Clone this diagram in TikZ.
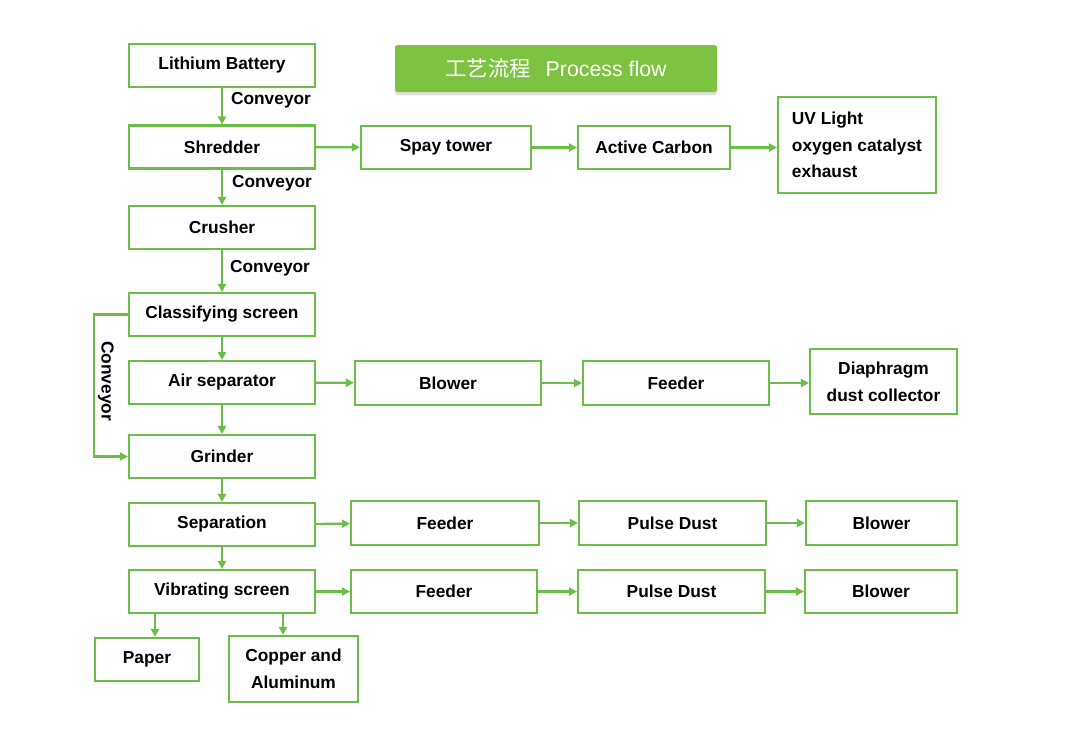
\documentclass[tikz,border=0pt]{standalone}
\usepackage{fontspec}
\setmainfont{Liberation Sans}
\newfontfamily\cjkfont{Noto Sans CJK SC}
\usetikzlibrary{arrows.meta,shadows}

\definecolor{flowgreen}{RGB}{106,190,72}
\definecolor{titlegreen}{RGB}{126,194,66}

\tikzset{
  box/.style={draw=flowgreen, line width=1.6pt, fill=white, inner sep=0pt,
    align=center, font=\bfseries\fontsize{13}{20}\selectfont},
  lbl/.style={font=\bfseries\fontsize{13}{20}\selectfont},
  flow/.style={draw=flowgreen, line width=1.6pt, -{Triangle[length=6pt,width=6pt]}},
}

\begin{document}
\begin{tikzpicture}[x=0.75pt,y=0.75pt,yscale=-1]
\useasboundingbox (0,0) rectangle (1066,732);

% Title
\node [fill=titlegreen, rounded corners=2pt, minimum width=241.5pt, minimum height=35.25pt,
  drop shadow={shadow xshift=0pt, shadow yshift=-2.5pt, opacity=0.25}, text=white,
  font=\fontsize{16}{18}\selectfont] (title) at (556,68.5) {{\cjkfont 工艺流程}\hspace{0.7em}Process flow};

% Main column
\node [box, minimum width=139.5pt, minimum height=32.25pt] (battery) at (222,65.5) {Lithium Battery};
\node [box, minimum width=139.5pt, minimum height=32.25pt] (shredder) at (222,147) {Shredder};
\node [box, minimum width=139.5pt, minimum height=32.25pt] (crusher) at (222,227.5) {Crusher};
\node [box, minimum width=139.5pt, minimum height=32.25pt] (classify) at (222,314.5) {Classifying screen};
\node [box, minimum width=139.5pt, minimum height=32.25pt] (airsep) at (222,382.5) {Air separator};
\node [box, minimum width=139.5pt, minimum height=32.25pt] (grinder) at (222,456.5) {Grinder};
\node [box, minimum width=139.5pt, minimum height=32.25pt] (separation) at (222,524.5) {Separation};
\node [box, minimum width=139.5pt, minimum height=32.25pt] (vibscreen) at (222,591.5) {Vibrating screen};
\node [box, minimum width=78pt, minimum height=32.25pt] (paper) at (147,659.5) {Paper};
\node [box, minimum width=96.75pt, minimum height=49.5pt] (copper) at (293.5,669) {Copper and\\Aluminum};

% Exhaust row
\node [box, minimum width=127.5pt, minimum height=32.25pt] (spay) at (446,147.5) {Spay tower};
\node [box, minimum width=114pt, minimum height=32.25pt] (carbon) at (654,147.5) {Active Carbon};
\node [box, minimum width=118.5pt, minimum height=72pt, align=left] (uvlight) at (857,145) {UV Light\\oxygen catalyst\\exhaust};

% Air separator row
\node [box, minimum width=139.5pt, minimum height=33pt] (blowerA) at (448,383) {Blower};
\node [box, minimum width=139.5pt, minimum height=33pt] (feederA) at (676,383) {Feeder};
\node [box, minimum width=110.25pt, minimum height=48.75pt] (diaphragm) at (883.5,381.5) {Diaphragm\\dust collector};

% Separation row
\node [box, minimum width=141pt, minimum height=33pt] (feederB) at (445,523) {Feeder};
\node [box, minimum width=140.25pt, minimum height=33pt] (pulseB) at (672.5,523) {Pulse Dust};
\node [box, minimum width=113.25pt, minimum height=33pt] (blowerB) at (881.5,523) {Blower};

% Vibrating screen row
\node [box, minimum width=139.5pt, minimum height=32.25pt] (feederC) at (444,591.5) {Feeder};
\node [box, minimum width=140.25pt, minimum height=32.25pt] (pulseC) at (671.5,591.5) {Pulse Dust};
\node [box, minimum width=114pt, minimum height=32.25pt] (blowerC) at (881,591.5) {Blower};

% Conveyor labels
\node [lbl] (convA) at (271,100) {Conveyor};
\node [lbl] (convB) at (272,183) {Conveyor};
\node [lbl] (convC) at (270,268) {Conveyor};
\node [lbl, rotate=-90] (convD) at (106,381) {Conveyor};

% Vertical flow
\draw [flow] (battery) -- (shredder);
\draw [flow] (shredder) -- (crusher);
\draw [flow] (crusher) -- (classify);
\draw [flow] (classify) -- (airsep);
\draw [flow] (airsep) -- (grinder);
\draw [flow] (grinder) -- (separation);
\draw [flow] (separation) -- (vibscreen);
\draw [flow] (classify.west) -- ++(-34,0) |- (grinder.west);
\draw [flow] ([xshift=-50.25pt]vibscreen.south) -- ([xshift=-50.25pt]vibscreen.south |- paper.north);
\draw [flow] ([xshift=45.75pt]vibscreen.south) -- ([xshift=45.75pt]vibscreen.south |- copper.north);

% Horizontal flow
\draw [flow] (shredder) -- (spay);
\draw [flow] (spay) -- (carbon);
\draw [flow] (carbon) -- (carbon -| uvlight.west);
\draw [flow] (airsep) -- (blowerA);
\draw [flow] (blowerA) -- (feederA);
\draw [flow] (feederA) -- (feederA -| diaphragm.west);
\draw [flow] (separation) -- (feederB);
\draw [flow] (feederB) -- (pulseB);
\draw [flow] (pulseB) -- (blowerB);
\draw [flow] (vibscreen) -- (feederC);
\draw [flow] (feederC) -- (pulseC);
\draw [flow] (pulseC) -- (blowerC);

\end{tikzpicture}
\end{document}
